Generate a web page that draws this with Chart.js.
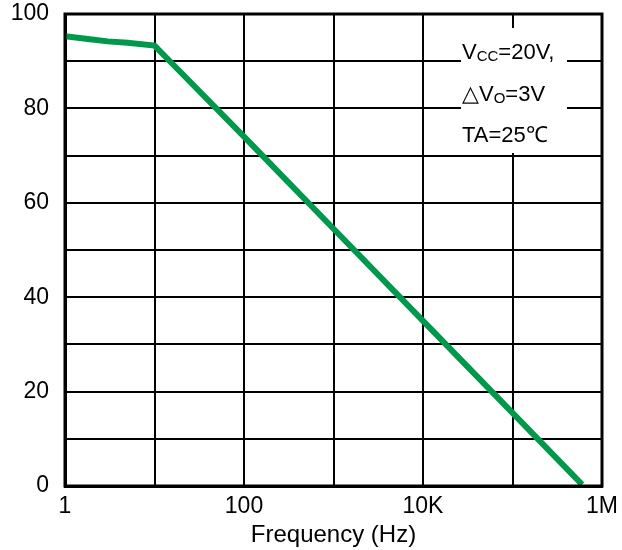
<!DOCTYPE html>
<html>
<head>
<meta charset="utf-8">
<script src="https://cdn.jsdelivr.net/npm/chart.js@4/dist/chart.umd.min.js"></script>
<style>
html,body{margin:0;padding:0;background:#fff;}
#wrap{width:622px;height:550px;position:relative;}
</style>
</head>
<body>
<div id="wrap"><canvas id="c" width="622" height="550"></canvas></div>
<script>
// ---- data ----
const freqHz = [1, 2, 3, 5, 10, 20, 100, 1000, 10000, 100000, 600000];
const values = [95.3, 94.6, 94.2, 93.9, 93.3, 87.5, 74.0, 54.5, 35.0, 15.5, 0.3];
const xTickValues = [1, 10, 100, 1000, 10000, 100000, 1000000];
const xTickLabels = ['1', '', '100', '', '10K', '', '1M'];
const yTickLabels = {0:'0', 20:'20', 40:'40', 60:'60', 80:'80', 100:'100'};
const xTitle = 'Frequency (Hz)';
const noteLines = [
  [{t:'V',s:false},{t:'CC',s:true},{t:'=20V,',s:false}],
  [{t:'\u25B3V',s:false},{t:'O',s:true},{t:'=3V',s:false}],
  [{t:'TA=25\u2103',s:false}]
];

const FONT = 'Arial, "Liberation Sans", sans-serif';

const notePlugin = {
  id: 'note',
  afterDatasetsDraw(chart) {
    const ctx = chart.ctx;
    ctx.save();
    ctx.fillStyle = '#fff';
    ctx.fillRect(461, 28, 106, 125);
    ctx.fillStyle = '#000';
    ctx.textBaseline = 'alphabetic';
    const baselines = [59, 101, 142];
    noteLines.forEach((line, i) => {
      let x = 462;
      line.forEach(seg => {
        ctx.font = (seg.s ? '15px ' : '22px ') + FONT;
        ctx.fillText(seg.t, x, baselines[i] + (seg.s ? 2 : 0));
        x += ctx.measureText(seg.t).width;
      });
    });
    ctx.restore();
  }
};

new Chart(document.getElementById('c'), {
  type: 'line',
  data: {
    datasets: [{
      data: freqHz.map((f, i) => ({x: f, y: values[i]})),
      borderColor: '#00984a',
      borderWidth: 6,
      pointRadius: 0,
      tension: 0,
      fill: false
    }]
  },
  options: {
    responsive: false,
    animation: false,
    layout: {padding: {left: 0, top: 14, right: 20, bottom: 0}},
    plugins: {legend: {display: false}, tooltip: {enabled: false}},
    scales: {
      x: {
        type: 'logarithmic',
        min: 1, max: 1000000,
        afterBuildTicks(scale) { scale.ticks = xTickValues.map(v => ({value: v})); },
        afterFit(scale) { scale.height = 64; scale.paddingLeft = 0; scale.paddingRight = 0; },
        grid: {color: '#000', lineWidth: 2, drawTicks: false},
        border: {color: '#000', width: 3},
        ticks: {
          autoSkip: false, maxRotation: 0, padding: 7,
          color: '#000', font: {family: FONT, size: 23},
          callback: (v) => { const i = xTickValues.indexOf(v); return i >= 0 ? xTickLabels[i] : ''; }
        },
        title: {display: true, text: xTitle, color: '#000', font: {family: FONT, size: 24}, padding: {top: 0, bottom: 0}}
      },
      y: {
        min: 0, max: 100,
        afterFit(scale) { scale.width = 65; scale.paddingTop = 0; scale.paddingBottom = 0; },
        grid: {color: '#000', lineWidth: 2, drawTicks: false},
        border: {color: '#000', width: 3},
        ticks: {
          stepSize: 10, padding: 16, color: '#000', font: {family: FONT, size: 23},
          callback: (v) => (v in yTickLabels ? yTickLabels[v] : '')
        }
      }
    }
  },
  plugins: [notePlugin, {
    id: 'rightBorder',
    afterDraw(chart) {
      const a = chart.chartArea, ctx = chart.ctx;
      ctx.save(); ctx.strokeStyle = '#000'; ctx.lineWidth = 3;
      ctx.strokeRect(a.left, a.top, a.right - a.left, a.bottom - a.top);
      ctx.restore();
    }
  }]
});
</script>
</body>
</html>
